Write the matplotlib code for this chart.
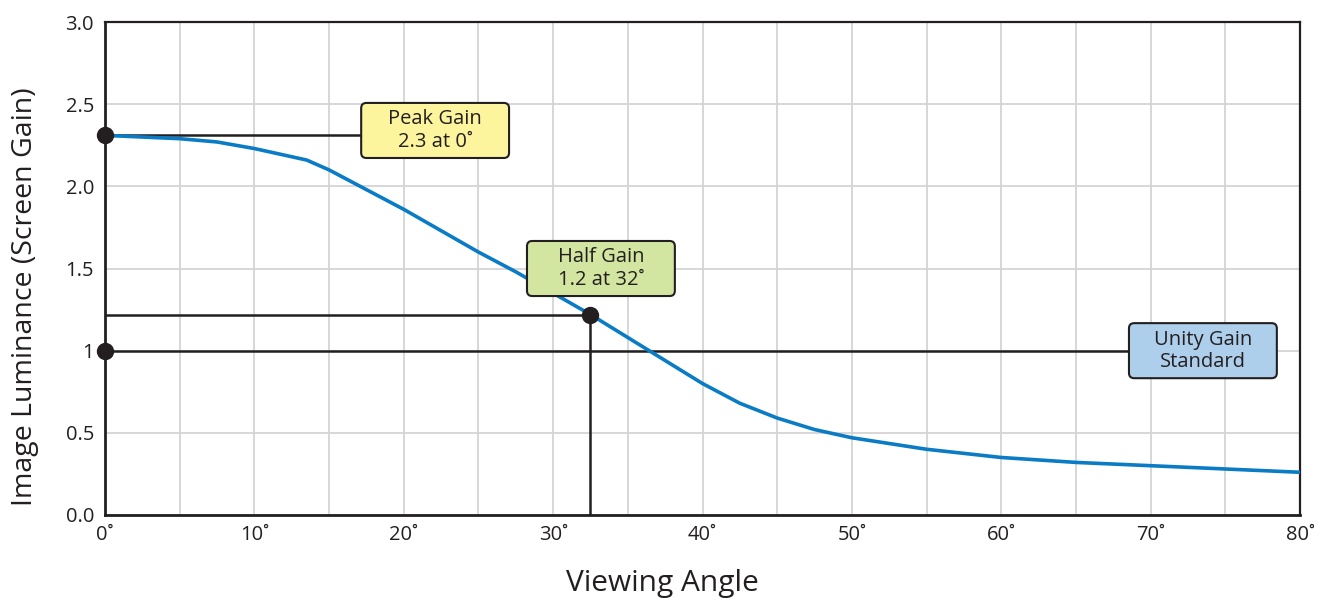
import matplotlib.pyplot as plt
from matplotlib.patches import FancyBboxPatch

# curve
angle = [0, 2.5, 5, 7.5, 10, 12.5, 13.5, 15, 17.5, 20, 22.5, 25, 27.5, 30, 32.5,
         35, 37.5, 40, 42.5, 45, 47.5, 50, 55, 60, 65, 70, 75, 80]
gain = [2.31, 2.30, 2.29, 2.27, 2.23, 2.18, 2.16, 2.10, 1.98, 1.86, 1.73, 1.60, 1.48,
        1.35, 1.22, 1.08, 0.94, 0.80, 0.68, 0.59, 0.52, 0.47, 0.40, 0.35, 0.32, 0.30,
        0.28, 0.26]

x_ticks = [0, 10, 20, 30, 40, 50, 60, 70, 80]
y_ticks = [0.0, 0.5, 1.0, 1.5, 2.0, 2.5, 3.0]
y_tick_labels = ['0.0', '0.5', '1', '1.5', '2.0', '2.5', '3.0']

peak = (0, 2.31)
half = (32.5, 1.22)
unity = (0, 1.0)

# callouts: text, centre, colour
callouts = [
    ('Peak Gain\n2.3 at 0˚', (22.1, 2.34), '#FDF59E'),
    ('Half Gain\n1.2 at 32˚', (33.2, 1.50), '#D3E6A1'),
    ('Unity Gain\nStandard', (73.5, 1.0), '#AECFEC'),
]
box_w = 9.9
box_h = 0.335

plt.rcParams['font.family'] = ['Open Sans', 'DejaVu Sans']
dark = '#231F20'

fig = plt.figure(figsize=(13.22, 6.02), dpi=100)
ax = fig.add_axes([105 / 1322, 87 / 602, 1195 / 1322, 493 / 602])

ax.set_xlim(0, 80)
ax.set_ylim(0, 3)
ax.set_xticks(x_ticks)
ax.set_xticklabels([f'{v}˚' for v in x_ticks])
ax.set_xticks(range(5, 80, 10), minor=True)
ax.set_yticks(y_ticks)
ax.set_yticklabels(y_tick_labels)
ax.grid(which='both', color='#D4D4D4', linewidth=1.3)
ax.set_axisbelow(True)
ax.tick_params(which='both', length=0, labelsize=14.5, colors=dark)
ax.tick_params(axis='y', pad=8)
ax.tick_params(axis='x', pad=7)
for s in ax.spines.values():
    s.set_color(dark)
    s.set_linewidth(1.6)
ax.spines['left'].set_linewidth(2)
ax.spines['bottom'].set_linewidth(2)

# leader lines
ax.plot([peak[0], callouts[0][1][0] - box_w / 2], [peak[1], peak[1]], color=dark, lw=1.8, zorder=3)
ax.plot([0, half[0]], [half[1], half[1]], color=dark, lw=1.8, zorder=3)
ax.plot([half[0], half[0]], [0, half[1]], color=dark, lw=1.8, zorder=3)
ax.plot([unity[0], callouts[2][1][0] - box_w / 2], [unity[1], unity[1]], color=dark, lw=1.8, zorder=3)

ax.plot(angle, gain, color='#0A7BC5', lw=2.6, zorder=4)

for p in (peak, half, unity):
    ax.plot(p[0], p[1], 'o', color=dark, markersize=11.5, zorder=6, clip_on=False)

for txt, (cx, cy), col in callouts:
    box = FancyBboxPatch((cx - box_w / 2, cy - box_h / 2), box_w, box_h,
                         boxstyle='round,pad=0,rounding_size=0.35',
                         mutation_aspect=0.091, facecolor=col, edgecolor=dark,
                         linewidth=1.5, zorder=5)
    ax.add_patch(box)
    ax.text(cx, cy, txt, ha='center', va='center', fontsize=14.5, color=dark,
            linespacing=1.15, zorder=7)

fig.text(662 / 1322, 19 / 602, 'Viewing Angle', ha='center', va='center', fontsize=21.5, color=dark)
fig.text(25 / 1322, 305 / 602, 'Image Luminance (Screen Gain)', ha='center', va='center',
         rotation=90, fontsize=20.5, color=dark)

fig.savefig('out.png', dpi=100)
